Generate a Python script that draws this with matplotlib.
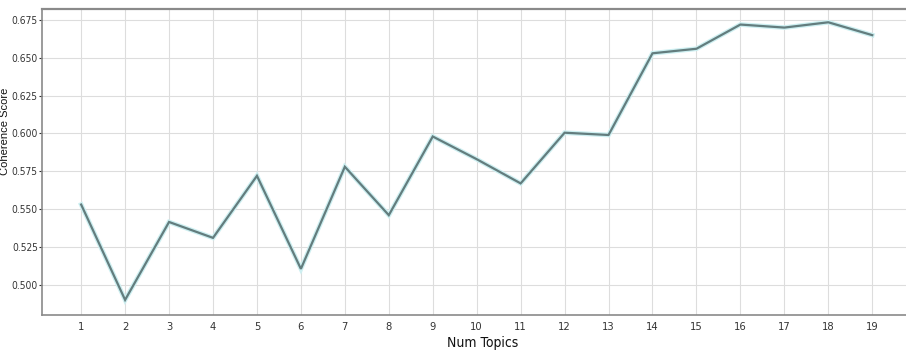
import matplotlib.pyplot as plt

# Coherence score for each LDA model size
num_topics = list(range(1, 20))
coherence = [0.553, 0.490, 0.5415, 0.531, 0.572, 0.5105, 0.578, 0.546, 0.598, 0.583,
             0.567, 0.6005, 0.599, 0.653, 0.656, 0.672, 0.670, 0.6735, 0.665]
y_ticks = [0.500, 0.525, 0.550, 0.575, 0.600, 0.625, 0.650, 0.675]

plt.rcParams['font.family'] = ['DejaVu Sans']
plt.rcParams['font.stretch'] = 'condensed'

fig = plt.figure(figsize=(9.06, 3.53), dpi=100)
ax = fig.add_axes([0.0464, 0.1076, 0.96, 0.867])

# soft halo under the main line
ax.plot(num_topics, coherence, color='#cdeff1', linewidth=3.4, solid_joinstyle='miter')
ax.plot(num_topics, coherence, color='#637d7e', linewidth=1.6, solid_joinstyle='miter')

ax.set_xlim(0.11, 19.9)
ax.set_ylim(0.480, 0.6823)
ax.set_xticks(num_topics)
ax.set_yticks(y_ticks)
ax.set_yticklabels([f'{v:.3f}' for v in y_ticks])
ax.tick_params(axis='x', length=0, labelsize=8, colors='#333333', pad=5)
ax.tick_params(axis='y', length=2, width=0.8, labelsize=7.3, colors='#333333', pad=1)

ax.grid(True, color='#dddddd', linewidth=0.8)
ax.set_axisbelow(True)

for side in ['top', 'left', 'bottom']:
    ax.spines[side].set_color('#8a8a8a')
ax.spines['top'].set_linewidth(1.6)
ax.spines['left'].set_linewidth(1.2)
ax.spines['bottom'].set_linewidth(1.2)
ax.spines['right'].set_visible(False)

ax.set_xlabel('Num Topics', fontsize=10, color='#111111')
ax.xaxis.set_label_coords(0.507, -0.07)
ax.set_ylabel('Coherence Score', fontsize=8, family='Liberation Sans',
              fontstretch='normal', color='#111111')
ax.yaxis.set_label_coords(-0.037, 0.6)

plt.savefig('out.png', dpi=100)
